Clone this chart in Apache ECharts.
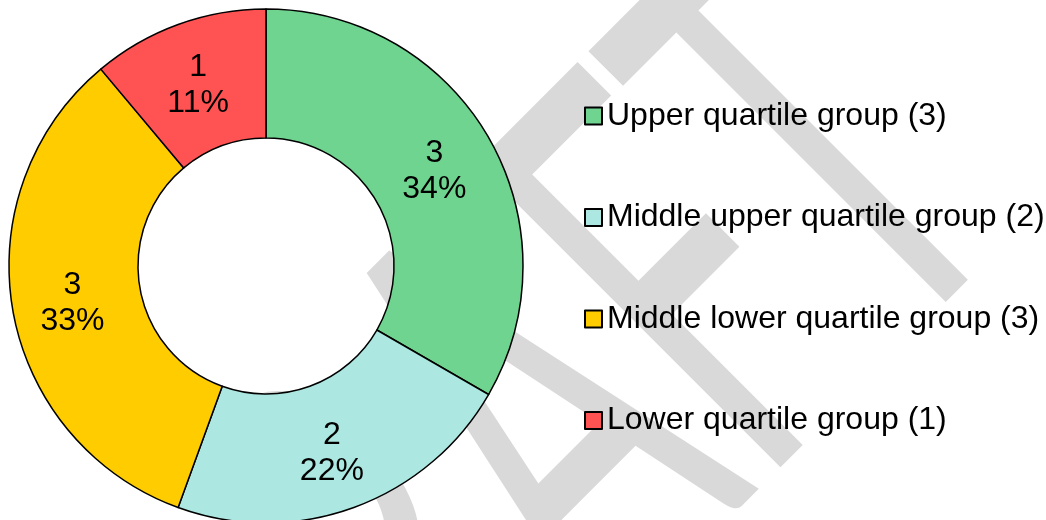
<!DOCTYPE html>
<html>
<head>
<meta charset="utf-8">
<style>
  html, body { margin: 0; padding: 0; background: #ffffff; }
  #chart { width: 1046px; height: 520px; }
</style>
<script src="https://cdn.jsdelivr.net/npm/echarts@6/dist/echarts.min.js"></script>
</head>
<body>
<div id="chart"></div>
<script>
// Quartile groups and how many members fall in each
const groups = [
  'Upper quartile group',
  'Middle upper quartile group',
  'Middle lower quartile group',
  'Lower quartile group'
];
const counts = [3, 2, 3, 1];
const colors = ['#6fd490', '#ace8e1', '#ffcc00', '#ff5353'];

const FONT = '"Liberation Sans", Arial, sans-serif';

const chart = echarts.init(document.getElementById('chart'), null, { renderer: 'canvas' });

chart.setOption({
  animation: false,
  backgroundColor: '#ffffff',
  color: colors,
  graphic: [
    {
      // faint diagonal "DRAFT" watermark behind the doughnut
      type: 'text',
      silent: true,
      z: -10,
      x: 887.5,
      y: 86.5,
      rotation: Math.PI / 4,
      scaleX: 0.54,
      style: {
        text: 'DRAFT',
        fontFamily: 'Lato',
        fontSize: 600,
        fill: '#d9d9d9',
        align: 'right',
        verticalAlign: 'middle'
      }
    }
  ],
  legend: {
    orient: 'vertical',
    left: 584,
    top: 99,
    padding: 0,
    itemWidth: 17,
    itemHeight: 17,
    itemGap: 67.5,
    icon: 'rect',
    selectedMode: false,
    data: groups,
    formatter: function (name) {
      return name + ' (' + counts[groups.indexOf(name)] + ')';
    },
    textStyle: {
      fontFamily: FONT,
      fontSize: 32,
      lineHeight: 34,
      color: '#000000'
    }
  },
  series: [
    {
      type: 'pie',
      center: [266, 266],
      radius: [128, 257],
      startAngle: 90,
      clockwise: true,
      percentPrecision: 0,
      avoidLabelOverlap: false,
      emphasis: { disabled: true },
      itemStyle: {
        borderColor: '#000000',
        borderWidth: 1.5
      },
      label: {
        show: true,
        position: 'inside',
        formatter: '{c}\n{d}%',
        offset: [-1, 3],
        fontFamily: FONT,
        fontSize: 32,
        lineHeight: 36,
        color: '#000000'
      },
      labelLine: { show: false },
      data: groups.map(function (g, i) {
        return { name: g, value: counts[i] };
      })
    }
  ]
});
</script>
</body>
</html>
